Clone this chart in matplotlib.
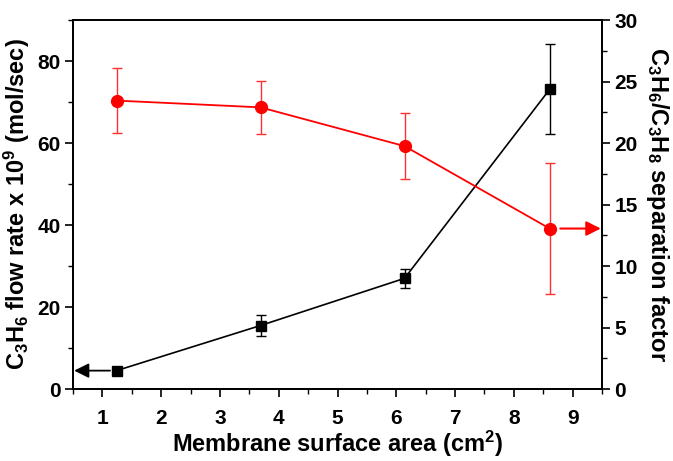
import matplotlib
matplotlib.use("Agg")
import matplotlib.pyplot as plt
from matplotlib.ticker import MultipleLocator

plt.rcParams['font.family'] = ['Liberation Sans', 'DejaVu Sans']
plt.rcParams['font.weight'] = 'bold'
plt.rcParams['mathtext.fontset'] = 'custom'
plt.rcParams['mathtext.rm'] = 'Liberation Sans:bold'
plt.rcParams['mathtext.it'] = 'Liberation Sans:bold'
plt.rcParams['mathtext.bf'] = 'Liberation Sans:bold'

# Membrane surface area (cm^2)
area = [1.24, 3.69, 6.14, 8.61]
# C3H6 flow rate x 1e9 (mol/sec) and its error
flow = [4.5, 15.5, 27.0, 73.1]
flow_err = [0.0, 2.5, 2.4, 11.0]
# C3H6/C3H8 separation factor and its error
sep = [23.45, 22.9, 19.75, 13.05]
sep_err = [2.65, 2.15, 2.7, 5.3]

fig = plt.figure(figsize=(6.73, 4.61), dpi=100)
ax = fig.add_axes([0.1085, 0.156, 0.786, 0.8006])
ax2 = ax.twinx()

ax.errorbar(area, flow, yerr=flow_err, color='black', marker='s', ms=7.5,
            lw=1.2, elinewidth=1.0, capsize=3.5, capthick=1.0, zorder=3)
ax2.errorbar(area, sep, yerr=sep_err, color='red', marker='o', ms=8.5,
             lw=1.3, elinewidth=1.0, capsize=3.5, capthick=1.0, ecolor='#ff3030',
             zorder=3)

ax.set_xlim(0.5, 9.5)
ax.set_ylim(0, 90)
ax2.set_ylim(0, 30)

ax.xaxis.set_major_locator(MultipleLocator(1))
ax.xaxis.set_minor_locator(MultipleLocator(0.5))
ax.yaxis.set_major_locator(MultipleLocator(20))
ax.yaxis.set_minor_locator(MultipleLocator(10))
ax2.yaxis.set_major_locator(MultipleLocator(5))
ax2.yaxis.set_minor_locator(MultipleLocator(2.5))

for a in (ax, ax2):
    a.tick_params(which='major', direction='out', length=6, width=1.2,
                  labelsize=15, pad=3)
    a.tick_params(which='minor', direction='out', length=3.5, width=1.0)
    for s in a.spines.values():
        s.set_linewidth(1.3)

ax.tick_params(axis='x', pad=8)

ax.set_xlabel('Membrane surface area (cm$^2$)', fontsize=17, fontweight='bold',
              labelpad=1)
ax.set_ylabel('C$_3$H$_6$ flow rate x 10$^9$ (mol/sec)', fontsize=17,
              fontweight='bold', labelpad=4)
ax2.set_ylabel('C$_3$H$_6$/C$_3$H$_8$ separation factor', fontsize=17,
               fontweight='bold', rotation=270, labelpad=24)

# Arrows pointing each series to its axis
ax.annotate('', xy=(0.52, flow[0]), xytext=(1.13, flow[0]),
            arrowprops=dict(arrowstyle='-|>', color='black', lw=1.3,
                            mutation_scale=22, shrinkA=0, shrinkB=0))
ax2.annotate('', xy=(9.48, sep[3]), xytext=(8.79, sep[3]),
             arrowprops=dict(arrowstyle='-|>', color='red', lw=1.5,
                             mutation_scale=22, shrinkA=0, shrinkB=0))

fig.savefig('out.png', dpi=100)
